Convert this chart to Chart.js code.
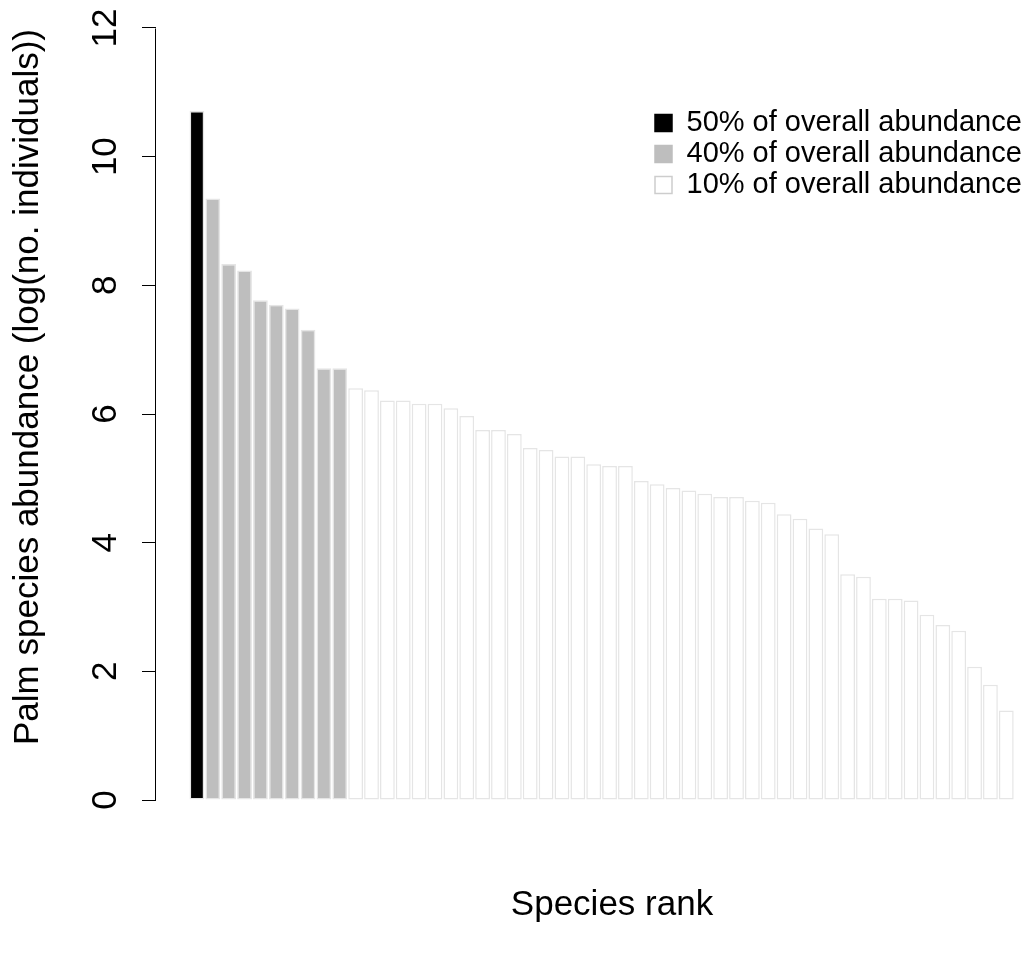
<!DOCTYPE html>
<html>
<head>
<meta charset="utf-8">
<title>Palm species rank abundance</title>
<script src="https://cdn.jsdelivr.net/npm/chart.js@4.4.1/dist/chart.umd.min.js"></script>
<style>
  html, body { margin: 0; padding: 0; background: #ffffff; }
</style>
</head>
<body>
<canvas id="rankChart" width="1032" height="960"></canvas>
<script>
// species rank (x) and log(no. individuals)
const ranks = [
  1, 2, 3, 4, 5, 6, 7, 8, 9, 10,
  11, 12, 13, 14, 15, 16, 17, 18, 19, 20,
  21, 22, 23, 24, 25, 26, 27, 28, 29, 30,
  31, 32, 33, 34, 35, 36, 37, 38, 39, 40,
  41, 42, 43, 44, 45, 46, 47, 48, 49, 50,
  51, 52
];
const abundance = [
  10.71, 9.35, 8.33, 8.23, 7.77, 7.70, 7.64, 7.31, 6.71, 6.71,
  6.40, 6.37, 6.21, 6.21, 6.16, 6.16, 6.09, 5.97, 5.75, 5.75,
  5.69, 5.47, 5.44, 5.34, 5.34, 5.22, 5.19, 5.19, 4.96, 4.91,
  4.85, 4.81, 4.76, 4.71, 4.71, 4.65, 4.62, 4.44, 4.37, 4.22,
  4.13, 3.51, 3.47, 3.13, 3.13, 3.10, 2.88, 2.72, 2.63, 2.07,
  1.79, 1.39
];
// how many of the ranked species fall in each share of total abundance
const groupNames = ["50% of overall abundance", "40% of overall abundance", "10% of overall abundance"];
const groupSizes = [1, 9, 42];
const yTicks = [0, 2, 4, 6, 8, 10, 12];

const fills = ["#000000", "#bebebe", "#ffffff"];
const keyEdges = ["#000000", "#bebebe", "#cdcdcd"];
const barEdge = "#e5e5e5";
const fontFamily = "'Liberation Sans', Arial, Helvetica, sans-serif";

let start = 0;
const datasets = groupSizes.map((n, g) => {
  const pts = ranks.slice(start, start + n).map((r, i) => ({ x: r, y: abundance[start + i] }));
  start += n;
  return {
    label: groupNames[g],
    data: pts,
    backgroundColor: fills[g],
    borderColor: barEdge,
    borderWidth: 1.5,
    borderSkipped: false,
    inflateAmount: 0,
    barPercentage: 0.93,
    categoryPercentage: 1,
    grouped: false,
    clip: false
  };
});

// R-style axis line that only runs between the first and last tick
const axisLine = {
  id: "axisLine",
  afterDraw(chart) {
    const s = chart.scales.y;
    const ctx = chart.ctx;
    const x = Math.round(s.right) - 0.5;
    ctx.save();
    ctx.strokeStyle = "#000000";
    ctx.lineWidth = 1;
    ctx.beginPath();
    ctx.moveTo(x, Math.round(s.getPixelForValue(yTicks[0])) + 0.5);
    ctx.lineTo(x, Math.round(s.getPixelForValue(yTicks[yTicks.length - 1])) + 0.5);
    ctx.stroke();
    ctx.restore();
  }
};

// key in the upper right like legend("topright"); axis titles centred on R's plot region
const placeBits = {
  id: "placeBits",
  afterLayout(chart) {
    chart.legend.left = 653;
    chart.legend.top = 106.5;
    chart.scales.y.bottom -= 56;
    chart.scales.x.left += 36;
  }
};

new Chart(document.getElementById("rankChart"), {
  type: "bar",
  data: { datasets },
  plugins: [axisLine, placeBits],
  options: {
    responsive: false,
    animation: false,
    layout: { padding: 0 },
    scales: {
      x: {
        type: "linear",
        offset: false,
        min: -1.58,
        max: 53.62,
        grid: { display: false },
        border: { display: false },
        ticks: { display: false },
        title: {
          display: true,
          text: "Species rank",
          color: "#000000",
          font: { family: fontFamily, size: 35 },
          padding: { top: 0, bottom: 34 }
        },
        afterFit(s) { s.height = 130; s.paddingLeft = 0; s.paddingRight = 0; }
      },
      y: {
        min: -0.466,
        max: 12.435,
        afterBuildTicks(s) { s.ticks = yTicks.map(v => ({ value: v })); },
        grid: { drawOnChartArea: false, drawTicks: true, tickLength: 14, color: "#000000", lineWidth: 1 },
        border: { display: false },
        ticks: {
          color: "#000000",
          font: { family: fontFamily, size: 35 },
          padding: 16.5,
          minRotation: 90,
          maxRotation: 90,
          crossAlign: "center"
        },
        title: {
          display: true,
          text: "Palm species abundance (log(no. individuals))",
          color: "#000000",
          font: { family: fontFamily, size: 35 },
          padding: { top: 7, bottom: 0 }
        },
        afterFit(s) { s.width = 156; s.paddingTop = 0; s.paddingBottom = 0; }
      }
    },
    plugins: {
      tooltip: { enabled: false },
      legend: {
        position: "chartArea",
        align: "start",
        labels: {
          color: "#000000",
          font: { family: fontFamily, size: 29 },
          boxWidth: 17,
          boxHeight: 17,
          padding: 2,
          generateLabels(chart) {
            return chart.data.datasets.map((ds, i) => ({
              text: ds.label,
              fillStyle: fills[i],
              strokeStyle: keyEdges[i],
              lineWidth: 1.5,
              hidden: false,
              datasetIndex: i
            }));
          }
        }
      }
    }
  }
});
</script>
</body>
</html>
